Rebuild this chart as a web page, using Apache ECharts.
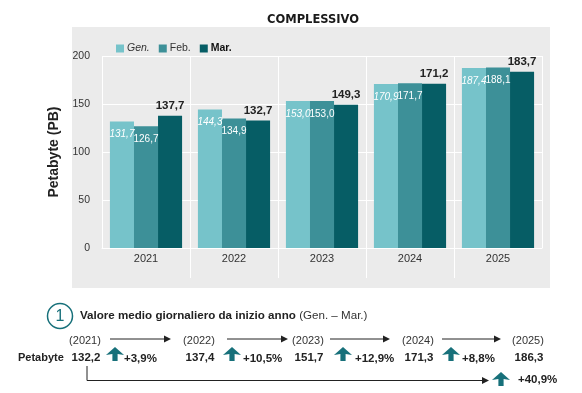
<!DOCTYPE html>
<html>
<head>
<meta charset="utf-8">
<script src="https://cdn.jsdelivr.net/npm/echarts@6/dist/echarts.min.js"></script>
<style>html,body{margin:0;padding:0;background:#fff}#c{width:582px;height:393px}</style>
</head>
<body>
<div id="c"></div>
<script>
// ---- data ----
const categories = ['2021', '2022', '2023', '2024', '2025'];
const genValues = [131.7, 144.3, 153.0, 170.9, 187.4];
const febValues = [126.7, 134.9, 153.0, 171.7, 188.1];
const marValues = [137.7, 132.7, 149.3, 171.2, 183.7];
const yTicks = [0, 50, 100, 150, 200];
const avgYears = ['(2021)', '(2022)', '(2023)', '(2024)', '(2025)'];
const avgValues = [132.2, 137.4, 151.7, 171.3, 186.3];
const yoyGrowth = ['+3,9%', '+10,5%', '+12,9%', '+8,8%'];
const totalGrowth = '+40,9%';

const SANS = "'Liberation Sans', Arial, sans-serif";
const fmt = v => v.toFixed(1).replace('.', ',');
const teal = '#17707a';

const chart = echarts.init(document.getElementById('c'), null, {renderer: 'canvas'});

// layout constants for annotation block
const colX = [85, 199, 308, 418, 528];
const arrowSpans = [[110, 171], [227, 288], [330, 390], [442, 501]];
const upX = [115, 232, 343, 451];
const pctX = [124, 243, 355, 462];

function upArrow(cx, top) {
  return {
    type: 'polygon',
    shape: {points: [[cx - 9, top + 8], [cx, top], [cx + 9, top + 8], [cx + 2.6, top + 7], [cx + 2.6, top + 14], [cx - 2.6, top + 14], [cx - 2.6, top + 7]]},
    style: {fill: teal}
  };
}
function rightArrow(x1, x2, y) {
  return [
    {type: 'line', shape: {x1: x1, y1: y, x2: x2 - 6, y2: y}, style: {stroke: '#222', lineWidth: 1}},
    {type: 'polygon', shape: {points: [[x2 - 7, y - 3.5], [x2, y], [x2 - 7, y + 3.5]]}, style: {fill: '#222'}}
  ];
}
function txt(text, x, y, opts) {
  return {
    type: 'text',
    style: Object.assign({text: text, x: x, y: y, fill: '#222', fontFamily: SANS, fontSize: 11.5, textAlign: 'center', textVerticalAlign: 'middle'}, opts || {})
  };
}

const graphics = [];
graphics.push({type: 'rect', z: -10, shape: {x: 72, y: 27, width: 478, height: 261}, style: {fill: '#ebebeb'}});
// header
graphics.push({type: 'circle', shape: {cx: 60, cy: 316, r: 12.5}, style: {fill: 'none', stroke: teal, lineWidth: 1.5}});
graphics.push(txt('1', 60, 316.5, {fill: teal, fontSize: 16}));
graphics.push({
  type: 'text',
  style: {
    x: 80, y: 316, textVerticalAlign: 'middle', textAlign: 'left',
    text: '{b|Valore medio giornaliero da inizio anno} {n|(Gen. – Mar.)}',
    rich: {
      b: {fontFamily: SANS, fontWeight: 'bold', fontSize: 11.6, fill: '#222'},
      n: {fontFamily: SANS, fontSize: 11.6, fill: '#333'}
    }
  }
});
avgYears.forEach((y, i) => graphics.push(txt(y, colX[i], 341, {fill: '#333', fontSize: 11})));
arrowSpans.forEach(s => rightArrow(s[0], s[1], 339).forEach(e => graphics.push(e)));
graphics.push(txt('Petabyte', 18, 358, {textAlign: 'left', fontWeight: 'bold', fontSize: 11}));
avgValues.forEach((v, i) => graphics.push(txt(fmt(v), colX[i] + 1, 358, {fontWeight: 'bold', fontSize: 11.5})));
yoyGrowth.forEach((g, i) => {
  graphics.push(upArrow(upX[i], 347));
  graphics.push(txt(g, pctX[i], 359, {textAlign: 'left', fontWeight: 'bold', fontSize: 11.5}));
});
graphics.push({type: 'polyline', shape: {points: [[87, 366], [87, 380.5], [483, 380.5]]}, style: {stroke: '#222', lineWidth: 1, fill: 'none'}});
graphics.push({type: 'polygon', shape: {points: [[482, 377], [489, 380.5], [482, 384]]}, style: {fill: '#222'}});
graphics.push(upArrow(501, 372));
graphics.push(txt(totalGrowth, 518, 380, {textAlign: 'left', fontWeight: 'bold', fontSize: 11.5}));

const barLabelInside = (italic) => ({
  show: true, position: 'insideTop', distance: 8, color: '#fff',
  fontFamily: SANS, fontSize: 10, fontStyle: italic ? 'italic' : 'normal',
  formatter: p => fmt(p.value)
});

// interior category boundaries (indices between categories)
const innerBounds = categories.slice(1).map((_, i) => i + 1);

chart.setOption({
  animation: false,
  backgroundColor: '#fff',
  title: {
    text: 'COMPLESSIVO', left: 262, top: 9,
    textStyle: {fontFamily: "'DejaVu Sans', sans-serif", fontWeight: 'bold', fontSize: 11.5, color: '#1a1a1a'}
  },
  legend: {
    left: 111, top: 38, itemWidth: 8, itemHeight: 8, itemGap: 9, icon: 'rect',
    textStyle: {fontFamily: SANS, fontSize: 10.5, color: '#333', padding: [0, 0, 0, -2]},
    data: [
      {name: 'Gen.', textStyle: {fontStyle: 'italic'}},
      {name: 'Feb.'},
      {name: 'Mar.', textStyle: {fontWeight: 'bold', color: '#111'}}
    ]
  },
  grid: {left: 102, right: 40, top: 56, bottom: 145},
  xAxis: [{
    type: 'category', data: categories,
    axisLine: {show: true, lineStyle: {color: '#fff', width: 1}},
    axisTick: {show: false},
    splitLine: {show: true, lineStyle: {color: '#fff', width: 1}},
    axisLabel: {fontFamily: SANS, fontSize: 11, color: '#333', margin: 5}
  }, {
    type: 'value', position: 'bottom', min: 0, max: categories.length, interval: 1,
    axisLine: {show: false}, splitLine: {show: false}, axisLabel: {show: false},
    axisTick: {show: true, length: 30, customValues: innerBounds, lineStyle: {color: '#fff', width: 1}}
  }],
  yAxis: {
    type: 'value', min: yTicks[0], max: yTicks[yTicks.length - 1], interval: 50,
    name: 'Petabyte (PB)', nameLocation: 'middle', nameGap: 40, nameRotate: 90,
    nameTextStyle: {fontFamily: SANS, fontWeight: 'bold', fontSize: 14, color: '#222'},
    axisLine: {show: false}, axisTick: {show: false},
    splitLine: {show: true, lineStyle: {color: '#fff', width: 1}},
    axisLabel: {fontFamily: SANS, fontSize: 10.5, color: '#333', margin: 12}
  },
  series: [
    {name: 'Gen.', type: 'bar', data: genValues, barGap: 0, barCategoryGap: '18%', itemStyle: {color: '#76c3ca'}, label: barLabelInside(true)},
    {name: 'Feb.', type: 'bar', data: febValues, barGap: 0, barCategoryGap: '18%', itemStyle: {color: '#3d9098'}, label: barLabelInside(false)},
    {name: 'Mar.', type: 'bar', data: marValues, barGap: 0, barCategoryGap: '18%', itemStyle: {color: '#065d65'},
      label: {show: true, position: 'top', distance: 4, color: '#222', fontFamily: SANS, fontWeight: 'bold', fontSize: 11.5, formatter: p => fmt(p.value)}}
  ],
  graphic: {elements: graphics}
});
</script>
</body>
</html>
